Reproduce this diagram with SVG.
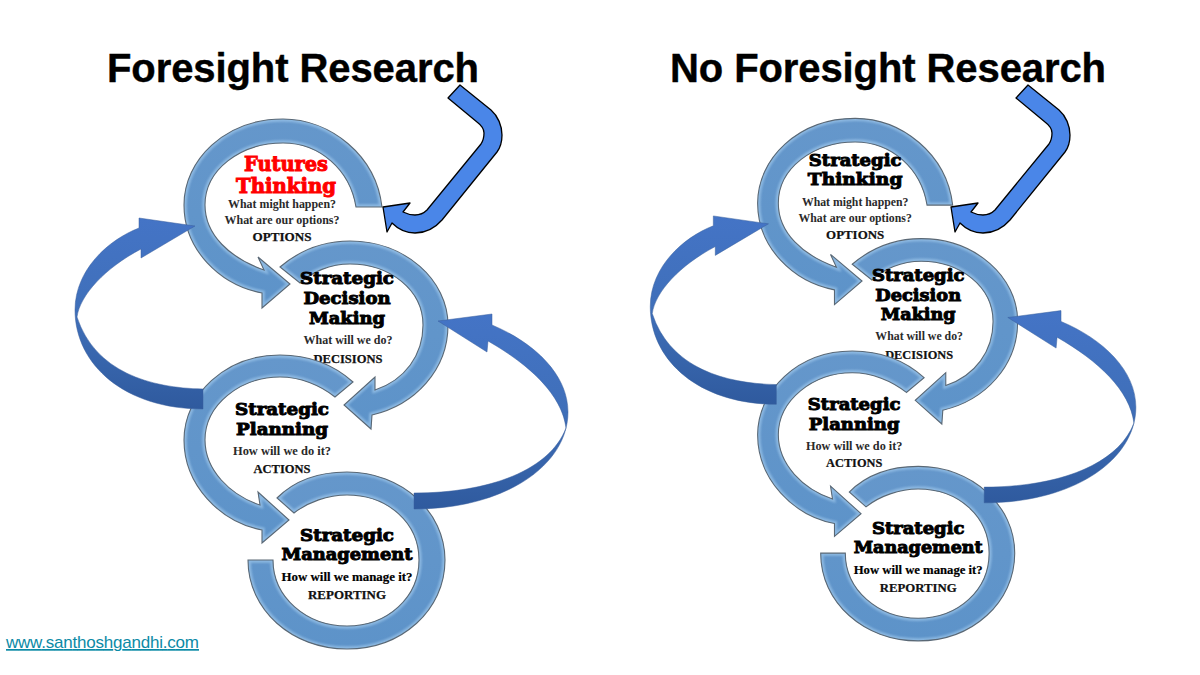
<svg xmlns="http://www.w3.org/2000/svg" xmlns:xlink="http://www.w3.org/1999/xlink" width="1200" height="675" viewBox="0 0 1200 675">
<style>
.title{font:bold 40px "Liberation Sans",Arial,sans-serif;fill:#000;stroke:#000;stroke-width:.4}
.link{font:17px "Liberation Sans",Arial,sans-serif;fill:#0b8aa6;text-decoration:underline}
.d{font-family:"DejaVu Serif",serif;font-weight:bold;font-size:17.5px;fill:#000;stroke:#000;stroke-width:1;text-anchor:middle}
.r{font-family:"DejaVu Serif",serif;font-weight:bold;font-size:21px;fill:#f00;stroke:#f00;stroke-width:1;text-anchor:middle}
.s{font-family:"Liberation Serif",serif;font-weight:bold;font-size:12.5px;fill:#2a2a2a;text-anchor:middle}
.sb{font-family:"Liberation Serif",serif;font-weight:bold;font-size:13px;fill:#000;stroke:#000;stroke-width:.2;text-anchor:middle}
.c{font-family:"Liberation Serif",serif;font-weight:bold;font-size:13.5px;fill:#111;stroke:#111;stroke-width:.25;text-anchor:middle}
.ring{fill:url(#ringFill)}
.hl{fill:none;stroke:#a9d0f2;stroke-width:5.5;opacity:.6;filter:url(#soft)}
.edge{fill:none;stroke:#5a6875;stroke-width:1.1}
.swoosh{fill:url(#swooshFill);stroke:#3a5f9c;stroke-width:.5}
.elbow{fill:#4a86e8;stroke:#000;stroke-width:1.3;stroke-linejoin:round}
</style>
<defs>
<linearGradient id="ringFill" x1="0" y1="0" x2="0" y2="1"><stop offset="0" stop-color="#6597cb"/><stop offset="1" stop-color="#5d93c9"/></linearGradient>
<linearGradient id="swooshFill" x1="0" y1="0" x2="0" y2="1"><stop offset="0" stop-color="#4474c6"/><stop offset=".5" stop-color="#3f6fb9"/><stop offset="1" stop-color="#2f5a9e"/></linearGradient>
<filter id="soft" x="-10%" y="-10%" width="120%" height="120%"><feGaussianBlur stdDeviation=".9"/></filter>
<path id="r1" d="M382,207 C376,155 330,119 283,119 C225,119 184,160 184,205 C184,250 220,285 262,293 L262,308 L290,284 L258,257 L264,270 C230,258 205,235 205,205 C205,170 240,143 283,143 C320,143 350,170 356,207 Z"/>
<path id="r2" d="M280,267 C300,250 325,241 350,241 C405,241 448,280 448,325 C448,370 415,405 372,415 L371,429 L344,405 L375,377 L375,390 C405,380 423,355 423,325 C423,290 390,264 350,264 C330,264 312,272 300,283 Z"/>
<path id="r3" d="M353,382 C333,364 308,355 280,355 C225,355 184,395 184,440 C184,485 220,522 262,530 L262,543 L289,520 L258,492 L260,505 C230,495 205,470 205,440 C205,405 240,377 280,377 C300,377 320,385 335,397 Z"/>
<path id="r4" d="M277,498 C295,480 320,472 347,472 C402,472 445,512 445,560 C445,610 402,649 347,649 C292,649 248,610 248,560 L273,560 C273,597 306,626 347,626 C388,626 419,597 419,560 C419,523 388,495 347,495 C328,495 308,502 294,513 Z"/>
<clipPath id="c1"><use href="#r1"/></clipPath>
<clipPath id="c2"><use href="#r2"/></clipPath>
<clipPath id="c3"><use href="#r3"/></clipPath>
<clipPath id="c4"><use href="#r4"/></clipPath>
<path id="sL" d="M195,226 L139,218 L139,228 C108,240 75,270 75,310 C75,365 125,409 203,409 L203,389 C150,388 95,372 77,317 C80,295 105,268 141,249 L141,258 Z"/>
<path id="sR" d="M438,321 L492,314 L492,325 C535,343 568,375 568,412 C568,465 505,509 414,509 L414,493 C490,493 550,470 566,428 C562,395 530,365 488,341 L487,352 Z"/>
<path id="elbow" d="M460,85 L491,110 C498,116 502,126 502,135 C502,142 500,148 497,152 L442,220 C435,228 425,233 415,233 C406,233 398,229 392,223 L387,232 L383,207 L410,203 L403,212 C407,214 411,215 415,215 C420,215 424,213 427,210 L481,144 C483,141 484,137 484,133 C484,129 481,125 477,122 L448,98 Z"/>
</defs>
<rect width="1200" height="675" fill="#fff"/>
<text class="title" x="107" y="82" textLength="372">Foresight Research</text>
<text class="title" x="670" y="82" textLength="436">No Foresight Research</text>

<g id="diagram-foresight">
<g id="node-futures-thinking">
<use href="#r1" class="ring"/><g clip-path="url(#c1)"><use href="#r1" class="hl"/></g><use href="#r1" class="edge"/>
<text class="r" x="286" y="171" textLength="84" lengthAdjust="spacingAndGlyphs">Futures</text>
<text class="r" x="286" y="193" textLength="100" lengthAdjust="spacingAndGlyphs">Thinking</text>
<text class="s" x="282" y="208" textLength="108" lengthAdjust="spacingAndGlyphs">What might happen?</text>
<text class="s" x="282" y="224" textLength="115" lengthAdjust="spacingAndGlyphs">What are our options?</text>
<text class="c" x="282" y="241" textLength="59" lengthAdjust="spacingAndGlyphs">OPTIONS</text>
</g>
<g id="node-decision-making">
<use href="#r2" class="ring"/><g clip-path="url(#c2)"><use href="#r2" class="hl"/></g><use href="#r2" class="edge"/>
<text class="d" x="347" y="284" textLength="94" lengthAdjust="spacingAndGlyphs">Strategic</text>
<text class="d" x="347" y="304" textLength="87" lengthAdjust="spacingAndGlyphs">Decision</text>
<text class="d" x="347" y="324" textLength="76" lengthAdjust="spacingAndGlyphs">Making</text>
<text class="s" x="348" y="344" textLength="89" lengthAdjust="spacingAndGlyphs">What will we do?</text>
<text class="c" x="348" y="363" textLength="69" lengthAdjust="spacingAndGlyphs">DECISIONS</text>
</g>
<g id="node-planning">
<use href="#r3" class="ring"/><g clip-path="url(#c3)"><use href="#r3" class="hl"/></g><use href="#r3" class="edge"/>
<text class="d" x="282" y="415" textLength="94" lengthAdjust="spacingAndGlyphs">Strategic</text>
<text class="d" x="282" y="435" textLength="92" lengthAdjust="spacingAndGlyphs">Planning</text>
<text class="s" x="282" y="455" textLength="98" lengthAdjust="spacingAndGlyphs">How will we do  it?</text>
<text class="c" x="282" y="473" textLength="57" lengthAdjust="spacingAndGlyphs">ACTIONS</text>
</g>
<g id="node-management">
<use href="#r4" class="ring"/><g clip-path="url(#c4)"><use href="#r4" class="hl"/></g><use href="#r4" class="edge"/>
<text class="d" x="347" y="541" textLength="94" lengthAdjust="spacingAndGlyphs">Strategic</text>
<text class="d" x="347" y="560" textLength="131" lengthAdjust="spacingAndGlyphs">Management</text>
<text class="sb" x="347" y="581" textLength="131" lengthAdjust="spacingAndGlyphs">How will we manage it?</text>
<text class="c" x="347" y="599" textLength="78" lengthAdjust="spacingAndGlyphs">REPORTING</text>
</g>
<g id="connectors-foresight">
<use href="#sL" class="swoosh"/>
<use href="#sR" class="swoosh"/>
<use href="#elbow" class="elbow"/>
</g>
</g>

<g id="diagram-no-foresight" transform="translate(576.4 1) scale(.985 .986)">
<g id="node-strategic-thinking">
<use href="#r1" class="ring"/><g clip-path="url(#c1)"><use href="#r1" class="hl"/></g><use href="#r1" class="edge"/>
<text class="d" x="283" y="167" textLength="94" lengthAdjust="spacingAndGlyphs">Strategic</text>
<text class="d" x="283" y="187" textLength="96" lengthAdjust="spacingAndGlyphs">Thinking</text>
<text class="s" x="283" y="208" textLength="108" lengthAdjust="spacingAndGlyphs">What might happen?</text>
<text class="s" x="283" y="224" textLength="115" lengthAdjust="spacingAndGlyphs">What are our options?</text>
<text class="c" x="283" y="241" textLength="59" lengthAdjust="spacingAndGlyphs">OPTIONS</text>
</g>
<g id="node-decision-making-2">
<use href="#r2" class="ring"/><g clip-path="url(#c2)"><use href="#r2" class="hl"/></g><use href="#r2" class="edge"/>
<text class="d" x="347" y="284" textLength="94" lengthAdjust="spacingAndGlyphs">Strategic</text>
<text class="d" x="347" y="304" textLength="87" lengthAdjust="spacingAndGlyphs">Decision</text>
<text class="d" x="347" y="324" textLength="76" lengthAdjust="spacingAndGlyphs">Making</text>
<text class="s" x="348" y="344" textLength="89" lengthAdjust="spacingAndGlyphs">What will we do?</text>
<text class="c" x="348" y="363" textLength="69" lengthAdjust="spacingAndGlyphs">DECISIONS</text>
</g>
<g id="node-planning-2">
<use href="#r3" class="ring"/><g clip-path="url(#c3)"><use href="#r3" class="hl"/></g><use href="#r3" class="edge"/>
<text class="d" x="282" y="415" textLength="94" lengthAdjust="spacingAndGlyphs">Strategic</text>
<text class="d" x="282" y="435" textLength="92" lengthAdjust="spacingAndGlyphs">Planning</text>
<text class="s" x="282" y="455" textLength="98" lengthAdjust="spacingAndGlyphs">How will we do  it?</text>
<text class="c" x="282" y="473" textLength="57" lengthAdjust="spacingAndGlyphs">ACTIONS</text>
</g>
<g id="node-management-2">
<use href="#r4" class="ring"/><g clip-path="url(#c4)"><use href="#r4" class="hl"/></g><use href="#r4" class="edge"/>
<text class="d" x="347" y="541" textLength="94" lengthAdjust="spacingAndGlyphs">Strategic</text>
<text class="d" x="347" y="560" textLength="131" lengthAdjust="spacingAndGlyphs">Management</text>
<text class="sb" x="347" y="581" textLength="131" lengthAdjust="spacingAndGlyphs">How will we manage it?</text>
<text class="c" x="347" y="599" textLength="78" lengthAdjust="spacingAndGlyphs">REPORTING</text>
</g>
<g id="connectors-no-foresight">
<use href="#sL" class="swoosh"/>
<use href="#sR" class="swoosh"/>
</g>
</g>
<use id="elbow-no-foresight" href="#elbow" class="elbow" transform="translate(568 0)"/>
<text class="link" x="6" y="648" textLength="193">www.santhoshgandhi.com</text>
</svg>
